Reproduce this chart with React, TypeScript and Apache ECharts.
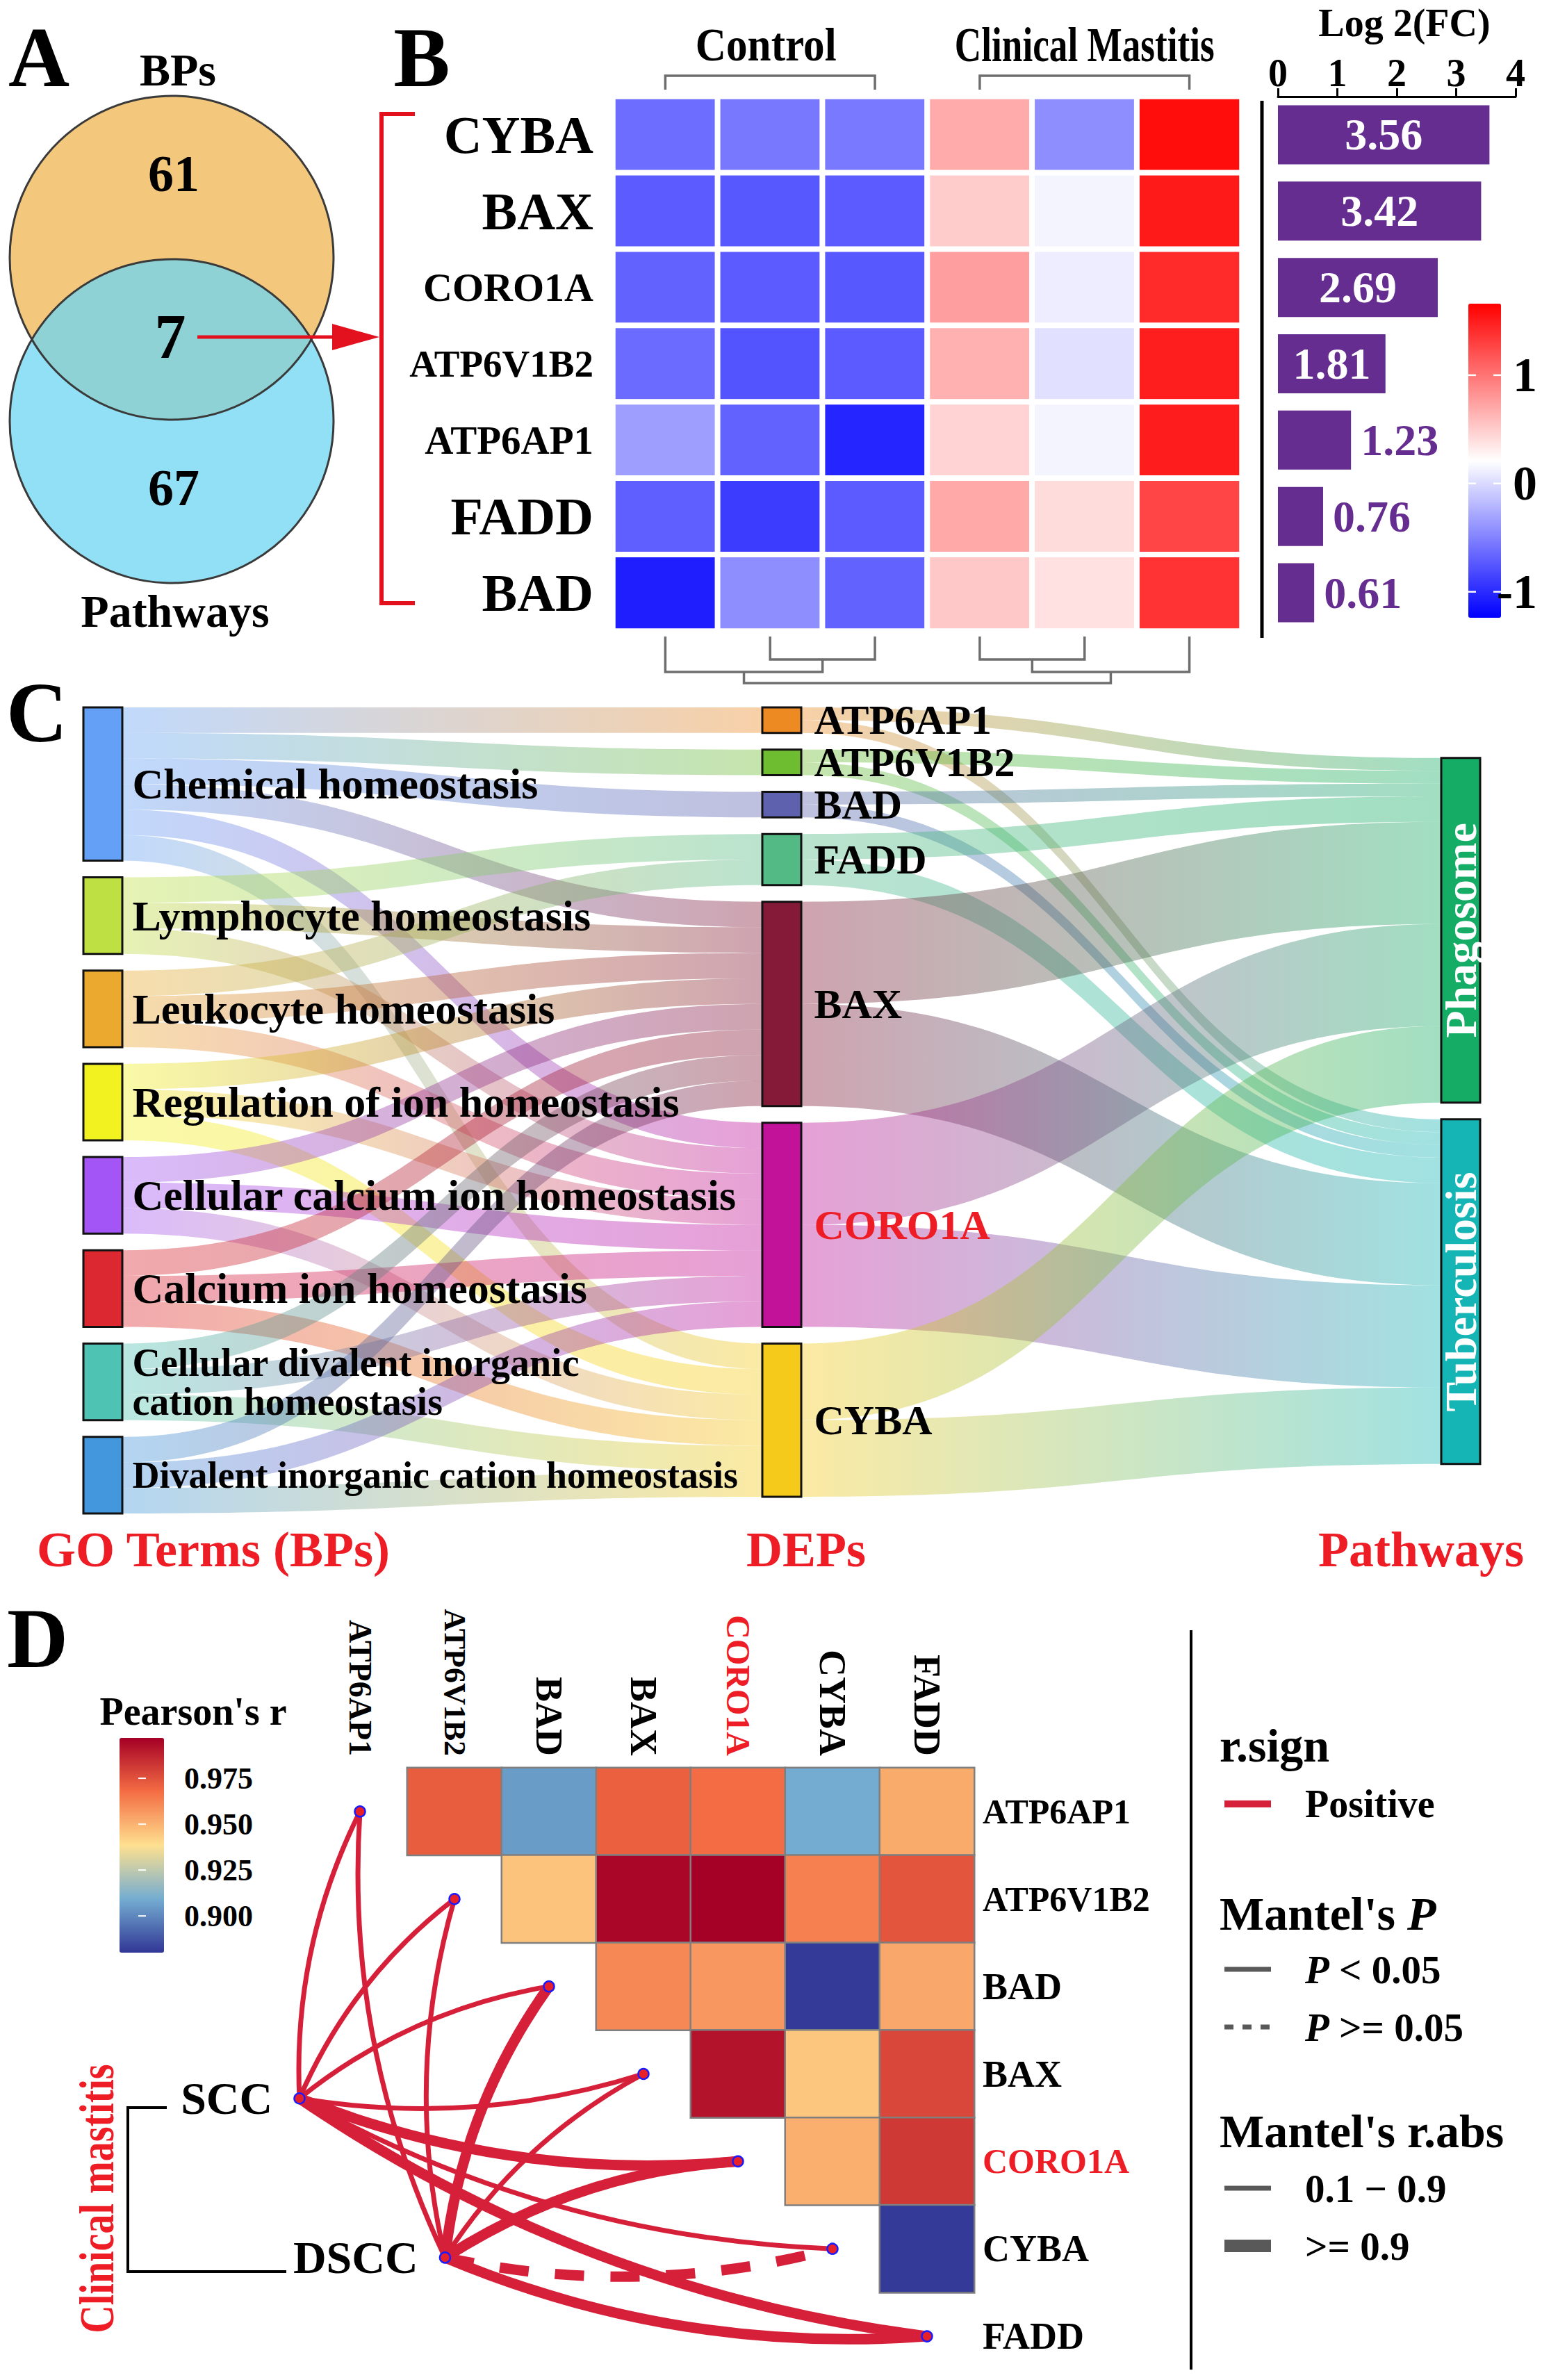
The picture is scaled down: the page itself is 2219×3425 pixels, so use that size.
import React, { useEffect, useRef } from 'react';
import * as echarts from 'echarts';

const W = 2219;
const H = 3425;
const SERIF = '"Liberation Serif", "Times New Roman", Times, serif';
const RED = '#ee1c25';

// ---------------- Panel A : Venn ----------------
const vennSetNames = ['BPs', 'Pathways'];
const vennCounts = [61, 7, 67]; // BPs only, shared, Pathways only

// ---------------- Panel B : heatmap + log2FC bars ----------------
const heatGenes = ['CYBA', 'BAX', 'CORO1A', 'ATP6V1B2', 'ATP6AP1', 'FADD', 'BAD'];
const heatSamples = ['Control_1', 'Control_2', 'Control_3', 'Mastitis_1', 'Mastitis_2', 'Mastitis_3'];
const sampleGroups = ['Control', 'Clinical Mastitis'];
const zCYBA = [-0.62, -0.56, -0.55, 0.69, -0.43, 1.59];
const zBAX = [-0.72, -0.74, -0.72, 0.5, 0.15, 1.51];
const zCORO1A = [-0.68, -0.72, -0.74, 0.76, 0.11, 1.42];
const zATP6V1B2 = [-0.63, -0.76, -0.72, 0.66, 0.04, 1.49];
const zATP6AP1 = [-0.34, -0.68, -1.03, 0.46, 0.15, 1.5];
const zFADD = [-0.7, -0.9, -0.72, 0.7, 0.41, 1.27];
const zBAD = [-1.07, -0.43, -0.68, 0.52, 0.38, 1.37];
const zScaleMin = -1.24;
const zScaleMax = 1.66;
const zTicks = [1, 0, -1];
const log2FC = [3.56, 3.42, 2.69, 1.81, 1.23, 0.76, 0.61];
const fcAxisMax = 4;
const fcInsideThreshold = 1.5;

// ---------------- Panel C : Sankey ----------------
const bpTerms = [
  'Chemical homeostasis',
  'Lymphocyte homeostasis',
  'Leukocyte homeostasis',
  'Regulation of ion homeostasis',
  'Cellular calcium ion homeostasis',
  'Calcium ion homeostasis',
  'Cellular divalent inorganic cation homeostasis',
  'Divalent inorganic cation homeostasis',
];
const depGenes = ['ATP6AP1', 'ATP6V1B2', 'BAD', 'FADD', 'BAX', 'CORO1A', 'CYBA'];
const pathwayNames = ['Phagosome', 'Tuberculosis'];
const bpGeneSets = [
  ['ATP6AP1', 'ATP6V1B2', 'BAD', 'BAX', 'CORO1A', 'CYBA'],
  ['FADD', 'BAX', 'CORO1A'],
  ['FADD', 'BAX', 'CORO1A'],
  ['BAX', 'CORO1A', 'CYBA'],
  ['BAX', 'CORO1A', 'CYBA'],
  ['BAX', 'CORO1A', 'CYBA'],
  ['BAX', 'CORO1A', 'CYBA'],
  ['BAX', 'CORO1A', 'CYBA'],
];
const toPhagosome = [0.5, 0.5, 0.5, 1, 4, 4, 3];
const toTuberculosis = [0.5, 0.5, 0.5, 1, 4, 4, 3];
const axisTitlesC = ['GO Terms (BPs)', 'DEPs', 'Pathways'];

// ---------------- Panel D : correlation + Mantel ----------------
const corrGenes = ['ATP6AP1', 'ATP6V1B2', 'BAD', 'BAX', 'CORO1A', 'CYBA', 'FADD'];
const rATP6AP1 = [0.972, 0.905, 0.971, 0.968, 0.909, 0.952];
const rATP6V1B2 = [0.946, 0.995, 0.997, 0.963, 0.974];
const rBAD = [0.961, 0.957, 0.881, 0.953];
const rBAX = [0.992, 0.945, 0.978];
const rCORO1A = [0.951, 0.982];
const rCYBA = [0.881];
const corrMin = 0.88;
const corrMax = 0.997;
const corrTicks = [0.975, 0.95, 0.925, 0.9];
const envNames = ['SCC', 'DSCC'];
const envAnchorSCC = [-0.14, 3.78];
const envAnchorDSCC = [1.4, 5.6];
const mantelR_SCC = [0.62, 0.58, 0.55, 0.66, 0.93, 0.52, 0.92];
const mantelR_DSCC = [0.55, 0.6, 0.95, 0.68, 0.94, 0.91, 0.96];
const mantelP_SCC = [0.01, 0.01, 0.02, 0.01, 0.001, 0.03, 0.001];
const mantelP_DSCC = [0.02, 0.01, 0.001, 0.01, 0.001, 0.08, 0.001];

// ---------------- layout / styles ----------------
const HB = { left: 882, top: 139, width: 905, height: 769 };
const BB = { left: 1839, top: 139, width: 342, height: 769 };
const VB = { left: 2113, top: 437, w: 47, h: 452 };
const SK = { left: 120, top: 1018, width: 2010, height: 1160 };
const CD = { left: 450, top: 2544, cw: 136, ch: 129.5 };
const VD = { left: 172, top: 2501, w: 64, h: 309 };

const nodeColor: Record<string, string> = {
  'Chemical homeostasis': '#63a0f6',
  'Lymphocyte homeostasis': '#bfe043',
  'Leukocyte homeostasis': '#eba92f',
  'Regulation of ion homeostasis': '#f2f221',
  'Cellular calcium ion homeostasis': '#a355f5',
  'Calcium ion homeostasis': '#dc2831',
  'Cellular divalent inorganic cation homeostasis': '#4ec3b3',
  'Divalent inorganic cation homeostasis': '#4297dd',
  ATP6AP1: '#ed8a22',
  ATP6V1B2: '#6ebd30',
  BAD: '#5e62ae',
  FADD: '#53b985',
  BAX: '#841a38',
  CORO1A: '#c11299',
  CYBA: '#f5ca1a',
  Phagosome: '#15ad66',
  Tuberculosis: '#14b5b4',
};

function txt(t: string, x: number, y: number, size: number, o: any = {}) {
  return {
    type: 'text',
    x,
    y,
    z: 100,
    rotation: o.rotation ?? 0,
    scaleX: o.scaleX ?? 1,
    style: {
      text: t,
      fontFamily: SERIF,
      fontWeight: o.weight ?? 'bold',
      fontStyle: o.italic ? 'italic' : 'normal',
      fontSize: size,
      fill: o.fill ?? '#000',
      align: o.align ?? 'center',
      verticalAlign: o.vAlign ?? 'middle',
      rich: o.rich,
    },
  };
}
function pline(points: number[][], stroke: string, width: number, o: any = {}) {
  return {
    type: 'polyline',
    z: o.z ?? 100,
    shape: { points },
    style: { stroke, lineWidth: width, fill: null, lineDash: o.dash, lineCap: o.cap ?? 'butt', lineJoin: 'miter' },
  };
}

function buildOption() {
  const G: any[] = [];

  // ---------- Panel A ----------
  const cx = 247;
  const r = 233;
  G.push({ type: 'circle', z: 10, shape: { cx, cy: 371, r }, style: { fill: '#f3c87c' } });
  G.push({ type: 'circle', z: 11, shape: { cx, cy: 606, r }, style: { fill: 'rgba(110,214,243,0.75)' } });
  G.push({ type: 'circle', z: 12, shape: { cx, cy: 371, r }, style: { fill: null, stroke: '#3a3a3a', lineWidth: 3 } });
  G.push({ type: 'circle', z: 12, shape: { cx, cy: 606, r }, style: { fill: null, stroke: '#3a3a3a', lineWidth: 3 } });
  G.push(txt('A', 56, 82, 122));
  G.push(txt(vennSetNames[0], 256, 100, 66));
  G.push(txt(vennSetNames[1], 252, 879, 66));
  G.push(txt(String(vennCounts[0]), 250, 250, 74));
  G.push(txt(String(vennCounts[1]), 245, 484, 90));
  G.push(txt(String(vennCounts[2]), 250, 702, 74));
  G.push(pline([[284, 485], [482, 485]], '#e3101e', 5));
  G.push({ type: 'polygon', z: 100, shape: { points: [[478, 466], [546, 485], [478, 504]] }, style: { fill: '#e3101e' } });
  G.push(pline([[597, 164], [549, 164], [549, 868], [597, 868]], '#e3101e', 6));

  // ---------- Panel B decorations ----------
  G.push(txt('B', 607, 82, 122));
  const pitch = HB.width / heatSamples.length;
  const colX = (i: number) => HB.left + pitch * (i + 0.5);
  const grey = '#6e6e6e';
  G.push(pline([[colX(0), 129], [colX(0), 109], [colX(2), 109], [colX(2), 129]], grey, 3.5));
  G.push(pline([[colX(3), 129], [colX(3), 109], [colX(5), 109], [colX(5), 129]], grey, 3.5));
  G.push(txt(sampleGroups[0], (colX(0) + colX(2)) / 2 - 6, 64, 68, { scaleX: 0.9 }));
  G.push(txt(sampleGroups[1], (colX(3) + colX(5)) / 2, 64, 70, { scaleX: 0.76 }));
  const y0 = 916, y1 = 949, y2 = 967, y3 = 983;
  const m12 = (colX(1) + colX(2)) / 2;
  const gL = (colX(0) + m12) / 2;
  const m34 = (colX(3) + colX(4)) / 2;
  const gR = (m34 + colX(5)) / 2;
  G.push(pline([[colX(1), y0], [colX(1), y1], [colX(2), y1], [colX(2), y0]], grey, 3.5));
  G.push(pline([[colX(0), y0], [colX(0), y2], [m12, y2], [m12, y1]], grey, 3.5));
  G.push(pline([[colX(3), y0], [colX(3), y1], [colX(4), y1], [colX(4), y0]], grey, 3.5));
  G.push(pline([[m34, y1], [m34, y2], [colX(5), y2], [colX(5), y0]], grey, 3.5));
  G.push(pline([[gL, y2], [gL, y3], [gR, y3], [gR, y2]], grey, 3.5));
  G.push(pline([[1816, 145], [1816, 918]], '#000', 5));
  G.push(txt('Log 2(FC)', 2021, 33, 56));
  zTicks.forEach((v) => {
    const y = VB.top + ((zScaleMax - v) / (zScaleMax - zScaleMin)) * VB.h;
    G.push(txt(String(v), 2212, y, 70, { align: 'right' }));
    G.push(pline([[VB.left, y], [VB.left + 11, y]], '#fff', 2.5, { z: 200 }));
    G.push(pline([[VB.left + VB.w - 11, y], [VB.left + VB.w, y]], '#fff', 2.5, { z: 200 }));
  });

  // ---------- Panel C decorations ----------
  G.push(txt('C', 53, 1025, 122));
  G.push(txt(axisTitlesC[0], 307, 2230, 72, { fill: RED }));
  G.push(txt(axisTitlesC[1], 1160, 2230, 72, { fill: RED }));
  G.push(txt(axisTitlesC[2], 2045, 2230, 72, { fill: RED }));

  // ---------- Panel D decorations ----------
  G.push(txt('D', 54, 2357, 122));
  G.push(txt("Pearson's r", 278, 2463, 56));
  corrTicks.forEach((v) => {
    const y = VD.top + ((corrMax - v) / (corrMax - corrMin)) * VD.h;
    G.push(txt(v.toFixed(3), 265, y, 44, { align: 'left' }));
    G.push(pline([[VD.left + 27, y], [VD.left + 38, y]], '#fff', 2, { z: 200 }));
  });
  G.push(pline([[240, 3033], [184, 3033], [184, 3269], [412, 3269]], '#000', 4));
  G.push(txt('Clinical mastitis', 140, 3164, 70, { fill: RED, rotation: Math.PI / 2, scaleX: 0.8 }));
  // legend
  G.push(pline([[1714, 2346], [1714, 3410]], '#000', 4));
  const LX0 = 1762, LX1 = 1829, TX = 1878;
  G.push(txt('r.sign', 1755, 2512, 68, { align: 'left' }));
  G.push(pline([[LX0, 2596], [LX1, 2596]], '#d6203a', 10));
  G.push(txt('Positive', TX, 2596, 56, { align: 'left' }));
  const richI = (size: number) => ({ i: { fontStyle: 'italic', fontWeight: 'bold', fontFamily: SERIF, fontSize: size } });
  G.push(txt("Mantel's {i|P}", 1755, 2754, 68, { align: 'left', rich: richI(68) }));
  G.push(pline([[LX0, 2834], [LX1, 2834]], '#595959', 7));
  G.push(txt('{i|P} < 0.05', TX, 2834, 57, { align: 'left', rich: richI(57) }));
  G.push(pline([[LX0, 2917], [LX1, 2917]], '#595959', 7, { dash: [13, 13] }));
  G.push(txt('{i|P} >= 0.05', TX, 2917, 57, { align: 'left', rich: richI(57) }));
  G.push(txt("Mantel's r.abs", 1755, 3067, 68, { align: 'left' }));
  G.push(pline([[LX0, 3149], [LX1, 3149]], '#595959', 7));
  G.push(txt('0.1 \u2212 0.9', TX, 3149, 57, { align: 'left' }));
  G.push(pline([[LX0, 3232], [LX1, 3232]], '#595959', 18));
  G.push(txt('>= 0.9', TX, 3232, 57, { align: 'left' }));

  // ---------- series data ----------
  const zRows = [zCYBA, zBAX, zCORO1A, zATP6V1B2, zATP6AP1, zFADD, zBAD];
  const heatData: number[][] = [];
  zRows.forEach((row, ri) => row.forEach((v, ci) => heatData.push([ci, ri, v])));

  const barData = log2FC.map((v) => ({
    value: v,
    label:
      v >= fcInsideThreshold
        ? { position: 'inside', color: '#fff' }
        : { position: 'right', color: '#652d90', distance: 14 },
  }));

  const condensedB: Record<string, string> = { CORO1A: 'm', ATP6V1B2: 'l', ATP6AP1: 'k' };

  // sankey
  const bpLabel: Record<string, string> = {
    'Cellular divalent inorganic cation homeostasis': 'Cellular divalent inorganic\ncation homeostasis',
  };
  const bpFont: Record<string, number> = {
    'Cellular divalent inorganic cation homeostasis': 56,
    'Divalent inorganic cation homeostasis': 54,
  };
  const sankeyNodes: any[] = [
    ...bpTerms.map((n) => ({
      name: n,
      itemStyle: { color: nodeColor[n] },
      label: {
        position: 'right',
        distance: 13,
        fontSize: bpFont[n] ?? 62,
        lineHeight: 56,
        formatter: bpLabel[n] ?? n,
      },
    })),
    ...depGenes.map((n) => ({
      name: n,
      itemStyle: { color: nodeColor[n] },
      label: { position: 'right', distance: 17, fontSize: 60, color: n === 'CORO1A' ? RED : '#000' },
    })),
    {
      name: 'pad',
      value: 1.33,
      depth: 2,
      itemStyle: { color: 'rgba(0,0,0,0)', borderWidth: 0, opacity: 0 },
      label: { show: false },
    },
    ...pathwayNames.map((n) => ({
      name: n,
      itemStyle: { color: nodeColor[n] },
      label: { position: 'inside', rotate: 90, color: '#fff', fontSize: 64 },
    })),
  ];
  const sankeyLinks: any[] = [];
  bpTerms.forEach((bp, i) => bpGeneSets[i].forEach((g) => sankeyLinks.push({ source: bp, target: g, value: 1 })));
  depGenes.forEach((g, i) => {
    sankeyLinks.push({ source: g, target: pathwayNames[0], value: toPhagosome[i] });
    sankeyLinks.push({ source: g, target: pathwayNames[1], value: toTuberculosis[i] });
  });

  // correlation heatmap (upper triangle)
  const corrRows = [rATP6AP1, rATP6V1B2, rBAD, rBAX, rCORO1A, rCYBA];
  const corrData: number[][] = [];
  corrRows.forEach((row, i) => row.forEach((v, k) => corrData.push([i + 1 + k, i, v])));

  const condensedDTop: Record<string, string> = { ATP6AP1: 'a', ATP6V1B2: 'b', CORO1A: 'c' };
  const condensedDRight: Record<string, string> = { ATP6AP1: 'b', ATP6V1B2: 'b', CORO1A: 'b' };

  // mantel network
  const envAnchors = [envAnchorSCC, envAnchorDSCC];
  const mantelR = [mantelR_SCC, mantelR_DSCC];
  const mantelP = [mantelP_SCC, mantelP_DSCC];
  const graphNodes: any[] = [
    ...corrGenes.map((g, i) => ({ name: g, value: [i + 0.5, i + 0.5] })),
    ...envNames.map((e, k) => ({
      name: e,
      value: envAnchors[k],
      label: {
        show: true,
        position: 'left',
        distance: 30,
        fontFamily: SERIF,
        fontWeight: 'bold',
        fontSize: 66,
        color: '#000',
      },
    })),
  ];
  const graphLinks: any[] = [];
  envNames.forEach((e, k) => {
    corrGenes.forEach((g, i) => {
      const src = envAnchors[k];
      const dx = (i + 0.5 - src[0]) * CD.cw;
      const dyUp = (src[1] - (i + 0.5)) * CD.ch;
      const curv = Math.atan2(dyUp, dx) > 0.17 ? 0.13 : -0.12;
      graphLinks.push({
        source: e,
        target: g,
        lineStyle: {
          width: mantelR[k][i] >= 0.9 ? 15 : 7,
          type: mantelP[k][i] < 0.05 ? 'solid' : [42, 38],
          curveness: curv,
        },
      });
    });
  });

  const hidden = { show: false };

  return {
    animation: false,
    backgroundColor: '#fff',
    textStyle: { fontFamily: SERIF },
    graphic: { elements: G },
    grid: [
      { left: HB.left, top: HB.top, width: HB.width, height: HB.height },
      { left: BB.left, top: BB.top, width: BB.width, height: BB.height },
      { left: CD.left, top: CD.top, width: CD.cw * 7, height: CD.ch * 7 },
      { left: CD.left - 3 * CD.cw, top: CD.top, width: CD.cw * 10, height: CD.ch * 7 },
    ],
    xAxis: [
      { type: 'category', gridIndex: 0, data: heatSamples, show: false },
      {
        type: 'value',
        gridIndex: 1,
        position: 'top',
        min: 0,
        max: fcAxisMax,
        interval: 1,
        axisLine: { show: true, lineStyle: { color: '#000', width: 3 } },
        axisTick: { show: true, length: 12, lineStyle: { color: '#000', width: 3 } },
        axisLabel: { margin: 6, fontFamily: SERIF, fontWeight: 'bold', fontSize: 56, color: '#000' },
        splitLine: hidden,
      },
      {
        type: 'category',
        gridIndex: 2,
        data: corrGenes,
        position: 'top',
        axisLine: hidden,
        axisTick: hidden,
        axisLabel: {
          rotate: 90,
          margin: 17,
          fontFamily: SERIF,
          fontWeight: 'bold',
          fontSize: 54,
          color: (v: string) => (v === 'CORO1A' ? RED : '#000'),
          formatter: (v: string) => (condensedDTop[v] ? `{${condensedDTop[v]}|${v}}` : v),
          rich: {
            a: { fontSize: 46, fontFamily: SERIF, fontWeight: 'bold' },
            b: { fontSize: 44, fontFamily: SERIF, fontWeight: 'bold' },
            c: { fontSize: 48, fontFamily: SERIF, fontWeight: 'bold' },
          },
        },
        splitLine: hidden,
      },
      { type: 'value', gridIndex: 3, min: -3, max: 7, show: false, splitLine: hidden },
    ],
    yAxis: [
      {
        type: 'category',
        gridIndex: 0,
        data: heatGenes,
        inverse: true,
        axisLine: hidden,
        axisTick: hidden,
        axisLabel: {
          margin: 28,
          fontFamily: SERIF,
          fontWeight: 'bold',
          fontSize: 76,
          color: '#000',
          formatter: (v: string) => (condensedB[v] ? `{${condensedB[v]}|${v}}` : v),
          rich: {
            m: { fontSize: 58, fontFamily: SERIF, fontWeight: 'bold' },
            l: { fontSize: 55, fontFamily: SERIF, fontWeight: 'bold' },
            k: { fontSize: 57, fontFamily: SERIF, fontWeight: 'bold' },
          },
        },
      },
      {
        type: 'category',
        gridIndex: 1,
        data: heatGenes,
        inverse: true,
        axisLine: hidden,
        axisTick: hidden,
        axisLabel: hidden,
      },
      {
        type: 'category',
        gridIndex: 2,
        data: corrGenes,
        inverse: true,
        position: 'right',
        axisLine: hidden,
        axisTick: hidden,
        axisLabel: {
          margin: 12,
          fontFamily: SERIF,
          fontWeight: 'bold',
          fontSize: 54,
          color: (v: string) => (v === 'CORO1A' ? RED : '#000'),
          formatter: (v: string) => (condensedDRight[v] ? `{${condensedDRight[v]}|${v}}` : v),
          rich: { b: { fontSize: 50, fontFamily: SERIF, fontWeight: 'bold' } },
        },
        splitLine: hidden,
      },
      { type: 'value', gridIndex: 3, min: 0, max: 7, inverse: true, show: false, splitLine: hidden },
    ],
    visualMap: [
      {
        type: 'continuous',
        seriesIndex: 0,
        min: zScaleMin,
        max: zScaleMax,
        calculable: false,
        orient: 'vertical',
        left: VB.left,
        top: VB.top,
        itemWidth: VB.w,
        itemHeight: VB.h,
        padding: 0,
        text: null,
        inRange: { color: ['#0000ff', '#ffffff', '#ff0000'] },
      },
      {
        type: 'continuous',
        seriesIndex: 3,
        min: corrMin,
        max: corrMax,
        calculable: false,
        orient: 'vertical',
        left: VD.left,
        top: VD.top,
        itemWidth: VD.w,
        itemHeight: VD.h,
        padding: 0,
        text: null,
        inRange: { color: ['#313695', '#74add1', '#fee090', '#f46d43', '#a50026'] },
      },
    ],
    series: [
      {
        type: 'heatmap',
        xAxisIndex: 0,
        yAxisIndex: 0,
        data: heatData,
        itemStyle: { borderColor: '#fff', borderWidth: 8 },
        emphasis: { disabled: true },
      },
      {
        type: 'bar',
        xAxisIndex: 1,
        yAxisIndex: 1,
        data: barData,
        barWidth: 85,
        itemStyle: { color: '#652d90' },
        label: { show: true, fontFamily: SERIF, fontWeight: 'bold', fontSize: 64 },
      },
      {
        type: 'sankey',
        left: SK.left,
        top: SK.top,
        width: SK.width,
        height: SK.height,
        nodeWidth: 56,
        nodeGap: 24,
        layoutIterations: 0,
        draggable: false,
        emphasis: { focus: 'none' },
        data: sankeyNodes,
        links: sankeyLinks,
        itemStyle: { borderColor: '#111', borderWidth: 3 },
        lineStyle: { color: 'gradient', opacity: 0.4, curveness: 0.5 },
        label: { fontFamily: SERIF, fontWeight: 'bold', color: '#000' },
      },
      {
        type: 'heatmap',
        xAxisIndex: 2,
        yAxisIndex: 2,
        data: corrData,
        itemStyle: { borderColor: '#7f7f7f', borderWidth: 2.5 },
        emphasis: { disabled: true },
      },
      {
        type: 'graph',
        coordinateSystem: 'cartesian2d',
        xAxisIndex: 3,
        yAxisIndex: 3,
        z: 5,
        silent: true,
        symbol: 'circle',
        symbolSize: 15,
        itemStyle: { color: '#e8202a', borderColor: '#1a1aff', borderWidth: 2.5 },
        lineStyle: { color: '#d6203a', opacity: 1 },
        data: graphNodes,
        links: graphLinks,
      },
    ],
  };
}

export default function App() {
  const ref = useRef<HTMLDivElement>(null);
  useEffect(() => {
    document.body.style.margin = '0';
    const chart = echarts.init(ref.current as HTMLDivElement, null, { renderer: 'svg', width: W, height: H });
    chart.setOption(buildOption() as any);
    return () => chart.dispose();
  }, []);
  return <div ref={ref} style={{ width: W, height: H }} />;
}
